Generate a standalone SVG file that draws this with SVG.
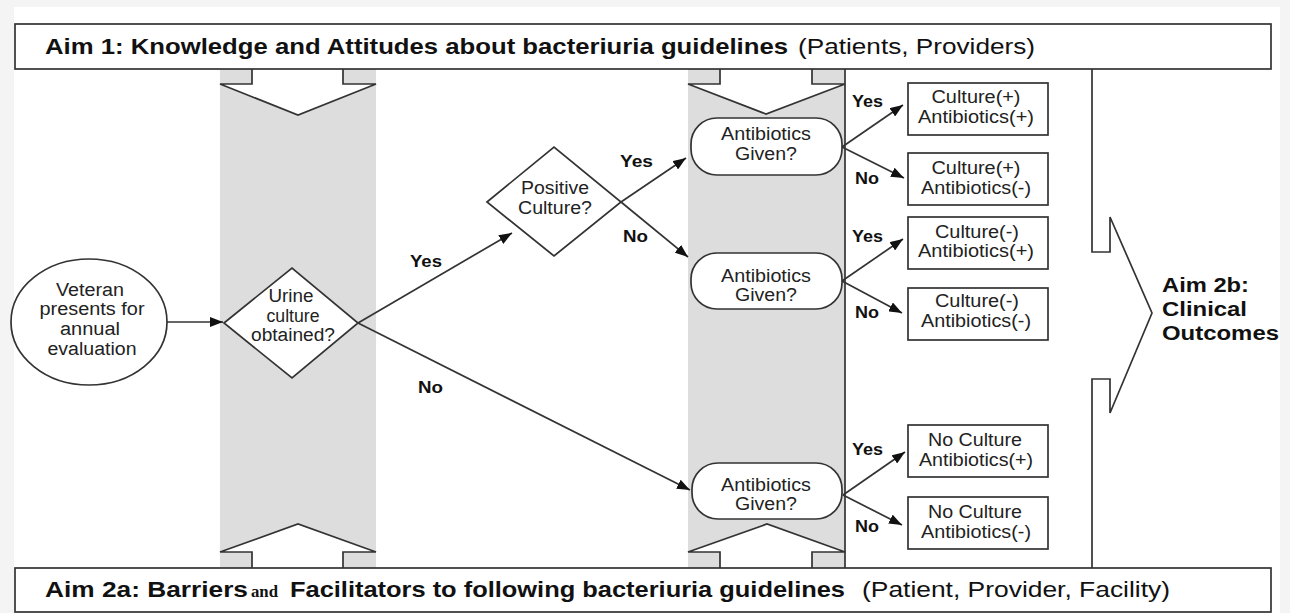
<svg xmlns="http://www.w3.org/2000/svg" width="1290" height="613" viewBox="0 0 1290 613">
<style>
.ln{stroke:#333;stroke-width:1.7;fill:none}
.sh{stroke:#333;stroke-width:1.7;fill:#fff}
.band{fill:#dddddd}
.t{font-family:"Liberation Sans",Arial,sans-serif;font-size:18px;fill:#222;text-anchor:middle}
.b{font-family:"Liberation Sans",Arial,sans-serif;font-size:17px;font-weight:bold;fill:#111}
.aim{font-family:"Liberation Sans",Arial,sans-serif;font-size:21.5px;fill:#111}
.aimb{font-family:"Liberation Sans",Arial,sans-serif;font-size:21.5px;font-weight:bold;fill:#111}
.aim2b{font-family:"Liberation Sans",Arial,sans-serif;font-size:19.5px;font-weight:bold;fill:#111}
.ser{font-family:"Liberation Serif","Times New Roman",serif;font-size:16px;font-weight:bold;fill:#111}
</style>
<defs>
<marker id="ah" markerUnits="userSpaceOnUse" markerWidth="14" markerHeight="10" refX="13" refY="5" orient="auto">
<path d="M0,0 L13,5 L0,10 z" fill="#111"/>
</marker>
</defs>
<rect x="0" y="0" width="1290" height="613" fill="#f4f4f4"/>
<rect x="14" y="7" width="1266" height="606" fill="#fff"/>

<g id="bands">
<rect class="band" x="220" y="69" width="156" height="499"/>
<rect class="band" x="688" y="69" width="157" height="499"/>
</g>

<g id="aim-arrows">
<path class="sh" d="M252,69 V84 H220 L298,115 L376,84 H343 V69"/>
<path class="sh" d="M720,69 V84 H688 L766,114 L845,84 H812 V69"/>
<path class="sh" d="M252,568 V552 H220 L298,524 L376,552 H343 V568"/>
<path class="sh" d="M720,568 V552 H688 L767,524 L845,552 H812 V568"/>
<path class="ln" d="M845,69 V568"/>
<path class="sh" d="M1092,69 V252 H1110 V217 L1152,313 L1110,413 V379 H1092 V568"/>
</g>

<g id="aim1">
<rect class="sh" x="15" y="24" width="1256" height="45"/>
<text class="aimb" x="45" y="54" textLength="743" lengthAdjust="spacingAndGlyphs">Aim 1: Knowledge and Attitudes about bacteriuria guidelines</text>
<text class="aim" x="798" y="54" textLength="237" lengthAdjust="spacingAndGlyphs">(Patients, Providers)</text>
</g>

<g id="aim2a">
<rect class="sh" x="15" y="568" width="1256" height="44"/>
<text class="aimb" x="45" y="597" textLength="203" lengthAdjust="spacingAndGlyphs">Aim 2a: Barriers</text>
<text class="ser" x="251" y="597" textLength="27" lengthAdjust="spacingAndGlyphs">and</text>
<text class="aimb" x="290" y="597" textLength="555" lengthAdjust="spacingAndGlyphs">Facilitators to following bacteriuria guidelines</text>
<text class="aim" x="862" y="597" textLength="308" lengthAdjust="spacingAndGlyphs">(Patient, Provider, Facility)</text>
</g>

<g id="aim2b">
<text class="aim2b" x="1162" y="292" textLength="87" lengthAdjust="spacingAndGlyphs">Aim 2b:</text>
<text class="aim2b" x="1162" y="316" textLength="85" lengthAdjust="spacingAndGlyphs">Clinical</text>
<text class="aim2b" x="1162" y="340" textLength="117" lengthAdjust="spacingAndGlyphs">Outcomes</text>
</g>

<g id="connectors">
<line class="ln" x1="167" y1="322" x2="223" y2="322" marker-end="url(#ah)"/>
<line class="ln" x1="358" y1="323" x2="512" y2="233" marker-end="url(#ah)"/>
<line class="ln" x1="358" y1="323" x2="690" y2="490" marker-end="url(#ah)"/>
<line class="ln" x1="621" y1="202" x2="686" y2="158" marker-end="url(#ah)"/>
<line class="ln" x1="621" y1="202" x2="688" y2="257" marker-end="url(#ah)"/>
<line class="ln" x1="842" y1="147" x2="903" y2="105" marker-end="url(#ah)"/>
<line class="ln" x1="842" y1="147" x2="904" y2="178" marker-end="url(#ah)"/>
<line class="ln" x1="842" y1="281" x2="903" y2="239" marker-end="url(#ah)"/>
<line class="ln" x1="842" y1="281" x2="902" y2="313" marker-end="url(#ah)"/>
<line class="ln" x1="843" y1="495" x2="905" y2="452" marker-end="url(#ah)"/>
<line class="ln" x1="843" y1="495" x2="902" y2="525" marker-end="url(#ah)"/>
<text class="b" x="410" y="267" textLength="32" lengthAdjust="spacingAndGlyphs">Yes</text>
<text class="b" x="418" y="393" textLength="25" lengthAdjust="spacingAndGlyphs">No</text>
<text class="b" x="620" y="167" textLength="33" lengthAdjust="spacingAndGlyphs">Yes</text>
<text class="b" x="623" y="242" textLength="25" lengthAdjust="spacingAndGlyphs">No</text>
<text class="b" x="852" y="107" textLength="31" lengthAdjust="spacingAndGlyphs">Yes</text>
<text class="b" x="855" y="184" textLength="24" lengthAdjust="spacingAndGlyphs">No</text>
<text class="b" x="852" y="242" textLength="31" lengthAdjust="spacingAndGlyphs">Yes</text>
<text class="b" x="855" y="318" textLength="24" lengthAdjust="spacingAndGlyphs">No</text>
<text class="b" x="852" y="455" textLength="31" lengthAdjust="spacingAndGlyphs">Yes</text>
<text class="b" x="855" y="532" textLength="24" lengthAdjust="spacingAndGlyphs">No</text>
</g>

<g id="veteran">
<ellipse class="sh" cx="89" cy="322" rx="78" ry="63"/>
<text class="t" x="90" y="296" textLength="68" lengthAdjust="spacingAndGlyphs">Veteran</text>
<text class="t" x="92" y="315" textLength="105" lengthAdjust="spacingAndGlyphs">presents for</text>
<text class="t" x="90" y="335" textLength="60" lengthAdjust="spacingAndGlyphs">annual</text>
<text class="t" x="92" y="355" textLength="89" lengthAdjust="spacingAndGlyphs">evaluation</text>
</g>

<g id="urine">
<polygon class="sh" points="224,323 292,268 358,323 292,378"/>
<text class="t" x="291" y="302" textLength="45" lengthAdjust="spacingAndGlyphs">Urine</text>
<text class="t" x="293" y="322" textLength="53" lengthAdjust="spacingAndGlyphs">culture</text>
<text class="t" x="293" y="341" textLength="84" lengthAdjust="spacingAndGlyphs">obtained?</text>
</g>

<g id="positive">
<polygon class="sh" points="487,202 554,147 621,202 554,256"/>
<text class="t" x="555" y="194" textLength="68" lengthAdjust="spacingAndGlyphs">Positive</text>
<text class="t" x="555" y="214" textLength="74" lengthAdjust="spacingAndGlyphs">Culture?</text>
</g>

<g id="ab1">
<rect class="sh" x="691" y="118" width="151" height="57" rx="26" ry="26"/>
<text class="t" x="766" y="140" textLength="90" lengthAdjust="spacingAndGlyphs">Antibiotics</text>
<text class="t" x="766" y="160" textLength="62" lengthAdjust="spacingAndGlyphs">Given?</text>
</g>
<g id="ab2">
<rect class="sh" x="691" y="253" width="151" height="56" rx="26" ry="26"/>
<text class="t" x="766" y="282" textLength="90" lengthAdjust="spacingAndGlyphs">Antibiotics</text>
<text class="t" x="766" y="301" textLength="62" lengthAdjust="spacingAndGlyphs">Given?</text>
</g>
<g id="ab3">
<rect class="sh" x="692" y="463" width="150" height="56" rx="26" ry="26"/>
<text class="t" x="766" y="491" textLength="90" lengthAdjust="spacingAndGlyphs">Antibiotics</text>
<text class="t" x="766" y="510" textLength="62" lengthAdjust="spacingAndGlyphs">Given?</text>
</g>

<g id="out1">
<rect class="sh" x="908" y="83" width="140" height="52"/>
<text class="t" x="976" y="103" textLength="89" lengthAdjust="spacingAndGlyphs">Culture(+)</text>
<text class="t" x="976" y="123" textLength="116" lengthAdjust="spacingAndGlyphs">Antibiotics(+)</text>
</g>
<g id="out2">
<rect class="sh" x="908" y="153" width="140" height="52"/>
<text class="t" x="976" y="174" textLength="89" lengthAdjust="spacingAndGlyphs">Culture(+)</text>
<text class="t" x="976" y="194" textLength="110" lengthAdjust="spacingAndGlyphs">Antibiotics(-)</text>
</g>
<g id="out3">
<rect class="sh" x="908" y="217" width="140" height="52"/>
<text class="t" x="977" y="238" textLength="84" lengthAdjust="spacingAndGlyphs">Culture(-)</text>
<text class="t" x="976" y="257" textLength="116" lengthAdjust="spacingAndGlyphs">Antibiotics(+)</text>
</g>
<g id="out4">
<rect class="sh" x="908" y="288" width="140" height="52"/>
<text class="t" x="977" y="307" textLength="84" lengthAdjust="spacingAndGlyphs">Culture(-)</text>
<text class="t" x="976" y="327" textLength="110" lengthAdjust="spacingAndGlyphs">Antibiotics(-)</text>
</g>
<g id="out5">
<rect class="sh" x="908" y="425" width="140" height="52"/>
<text class="t" x="975" y="446" textLength="94" lengthAdjust="spacingAndGlyphs">No Culture</text>
<text class="t" x="976" y="466" textLength="114" lengthAdjust="spacingAndGlyphs">Antibiotics(+)</text>
</g>
<g id="out6">
<rect class="sh" x="908" y="497" width="140" height="52"/>
<text class="t" x="975" y="518" textLength="94" lengthAdjust="spacingAndGlyphs">No Culture</text>
<text class="t" x="976" y="538" textLength="110" lengthAdjust="spacingAndGlyphs">Antibiotics(-)</text>
</g>
</svg>
